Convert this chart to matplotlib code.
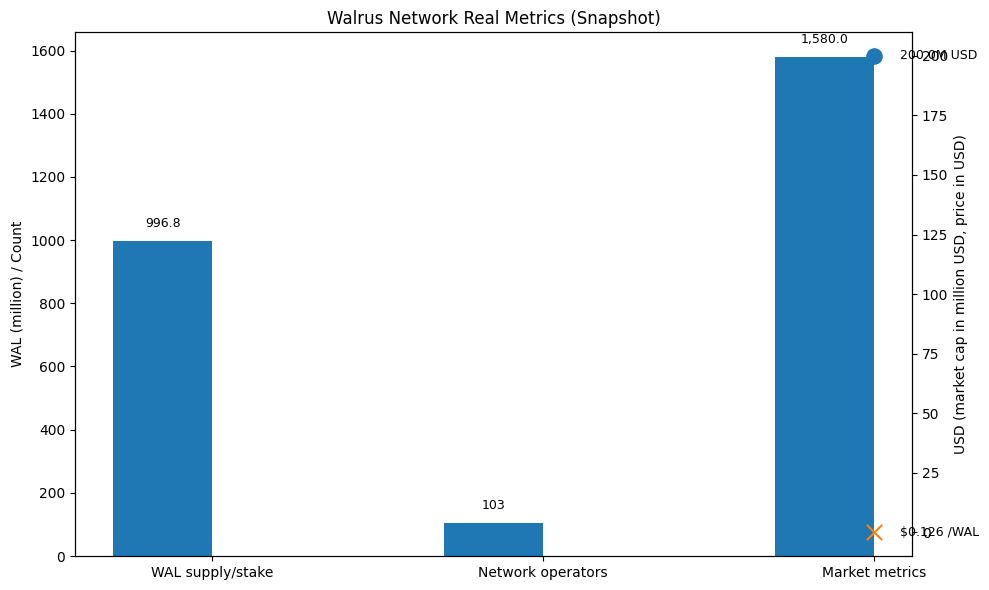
import numpy as np
import matplotlib.pyplot as plt

categories = ["WAL supply/stake", "Network operators", "Market metrics"]
bar_values = [996.8, 103, 1580.0]
bar_labels = ["996.8", "103", "1,580.0"]

usd_values = [200.0, 0.126]
usd_labels = ["200.0M USD", "$0.126 /WAL"]
usd_markers = ["o", "x"]
usd_colors = ["#1f77b4", "#ff7f0e"]

fig = plt.figure(figsize=(9.89, 5.9), dpi=100)
ax = fig.add_axes([75 / 989, 34 / 590, 837 / 989, 524 / 590])

x = np.arange(len(categories))
w = 0.3
bars = ax.bar(x - w / 2, bar_values, width=w, color="#1f77b4")
for b, lab in zip(bars, bar_labels):
    ax.annotate(lab, (b.get_x() + b.get_width() / 2, b.get_height()),
                xytext=(0, 8), textcoords="offset points",
                ha="center", va="bottom", fontsize=9)
ax.set_xticks(x, categories)
ax.set_ylabel("WAL (million) / Count")
ax.set_title("Walrus Network Real Metrics (Snapshot)")

ax2 = ax.twinx()
for v, lab, m, c in zip(usd_values, usd_labels, usd_markers, usd_colors):
    ax2.scatter([x[-1]], [v], marker=m, s=120, color=c)
    ax2.text(x[-1] + 0.08, v, lab, va="center", ha="left", fontsize=9)
ax2.set_ylabel("USD (market cap in million USD, price in USD)")

fig.savefig("out.png", dpi=100)
